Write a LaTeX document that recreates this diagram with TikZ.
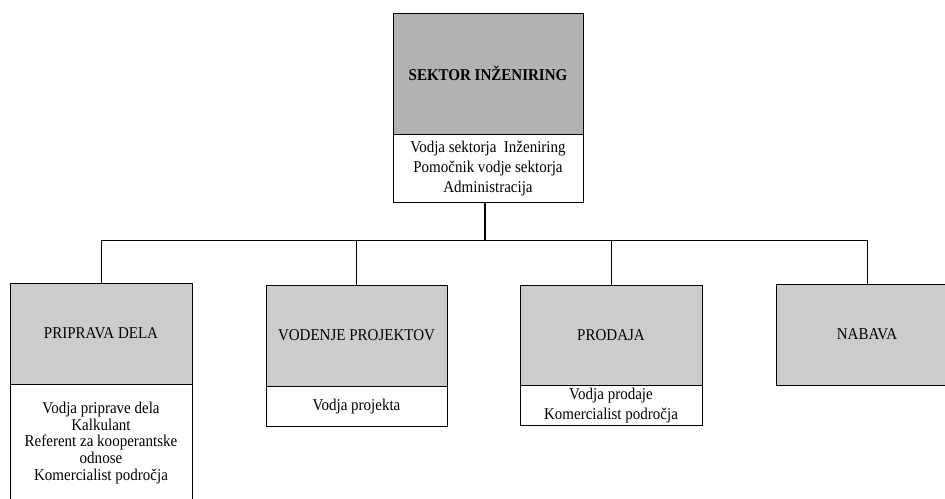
\documentclass[tikz,border=0pt]{standalone}
\usepackage{fontspec}
\setmainfont{Liberation Serif}[FakeStretch=0.91]
\begin{document}
\begin{tikzpicture}[x=1pt,y=-1pt,
 box/.style={draw, line width=0.9pt, inner sep=0pt, align=center, font=\fontsize{16.5}{16.7}\selectfont},
 dark/.style={box, fill=black!30},
 light/.style={box, fill=black!20},
 wbox/.style={box, fill=white, anchor=north},
 link/.style={line width=0.9pt}]
\useasboundingbox (0,0) rectangle (945,498);
% top
\node[dark, minimum width=190pt, minimum height=121pt, font=\bfseries\fontsize{16.5}{18}\selectfont] (st) at (488,73.5) {SEKTOR INŽENIRING};
\node[wbox, minimum width=190pt, minimum height=68pt, font=\fontsize{16.5}{20}\selectfont] (stw) at (st.south) {Vodja sektorja~ Inženiring\\Pomočnik vodje sektorja\\Administracija};
% children
\node[light, minimum width=182pt, minimum height=101pt] (pd) at (101,333.5) {PRIPRAVA DELA};
\node[wbox, minimum width=182pt, minimum height=116pt] (pdw) at (pd.south) {Vodja priprave dela\\Kalkulant\\Referent za kooperantske\\odnose\\Komercialist področja};
\node[light, minimum width=181pt, minimum height=101pt] (vp) at (356.5,335.5) {VODENJE PROJEKTOV};
\node[wbox, minimum width=181pt, minimum height=40pt] (vpw) at (vp.south) {Vodja projekta};
\node[light, minimum width=182pt, minimum height=100pt] (pr) at (611,335) {PRODAJA};
\node[wbox, minimum width=182pt, minimum height=40pt, font=\fontsize{16.5}{20}\selectfont] (prw) at (pr.south) {Vodja prodaje\\Komercialist področja};
\node[light, minimum width=182pt, minimum height=101pt] (nb) at (867,334.5) {NABAVA};
% connectors
\coordinate (bm) at (485,240);
\draw[line width=1.6pt] (stw.south -| bm) -- (bm);
\draw[link] (pd.north |- bm) -- (nb.north |- bm);
\foreach \n in {pd,vp,pr,nb} \draw[link] (\n.north |- bm) -- (\n.north);
\end{tikzpicture}
\end{document}
